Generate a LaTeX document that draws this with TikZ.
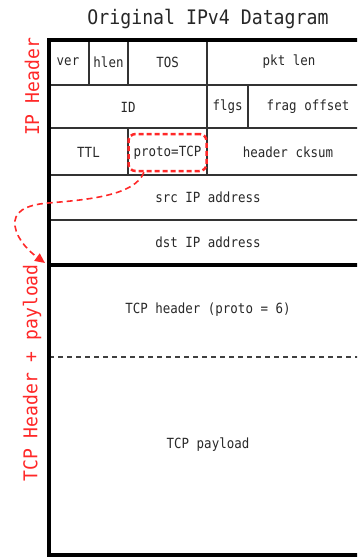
\documentclass[tikz,border=0pt]{standalone}
\usepackage{fontspec}
\newfontfamily\fieldfont[FakeStretch=0.89]{DejaVu Sans Mono}
\newfontfamily\titlefont[FakeStretch=0.91]{DejaVu Sans Mono}
\newfontfamily\sidefont[FakeStretch=0.95]{DejaVu Sans Mono}
\usetikzlibrary{arrows.meta}
\definecolor{lbl}{RGB}{255,40,40}
\definecolor{txt}{RGB}{40,40,40}
\begin{document}
\begin{tikzpicture}[x=1pt,y=-1pt,
  thinline/.style={line width=1.3pt, draw=black!80},
  thickline/.style={line width=3.5pt, draw=black},
  field/.style={font=\fontsize{14}{16}\fieldfont, text=txt, inner sep=0pt},
  side/.style={font=\fontsize{19}{21}\sidefont, text=lbl, rotate=90, inner sep=0pt},
  protobox/.style={draw=lbl, dashed, dash pattern=on 5pt off 3pt, line width=2.5pt,
    rounded corners=7pt, minimum width=78pt, minimum height=37pt},
  link/.style={draw=lbl, line width=1.6pt, dash pattern=on 6pt off 4pt,
    -{Triangle[length=10pt,width=9pt]}},
]
\useasboundingbox (0,0) rectangle (357,559);
\clip (0,0) rectangle (357,559);

% title
\node[font=\fontsize{20}{22}\titlefont, text=black!85, inner sep=0pt] (title) at (208,19) {Original IPv4 Datagram};

% thin grid lines
\draw[thinline] (49,85) -- (368,85);
\draw[thinline] (49,128) -- (368,128);
\draw[thinline] (49,175) -- (368,175);
\draw[thinline] (49,220) -- (368,220);
\draw[thinline] (89,40) -- (89,85);
\draw[thinline] (128,40) -- (128,85);
\draw[thinline] (207,40) -- (207,85);
\draw[thinline] (207,85) -- (207,128);
\draw[thinline] (248,85) -- (248,128);
\draw[thinline] (128,128) -- (128,175);
\draw[thinline] (207,128) -- (207,175);

% dashed separator in TCP part
\draw[line width=1.6pt, draw=black!75, dash pattern=on 5pt off 4pt] (49,357) -- (368,357);

% thick outlines
\draw[thickline] (49,265) -- (368,265);
\draw[thickline] (368,40) -- (49,40) -- (49,555) -- (368,555);

% fields
\node[field] (ver) at (68,62) {ver};
\node[field] (hlen) at (108.5,62) {hlen};
\node[field] (tos) at (167.5,62) {TOS};
\node[field] (pktlen) at (289,62) {pkt len};
\node[field] (id) at (128,107) {ID};
\node[field] (flgs) at (227.5,107) {flgs};
\node[field] (frag) at (308,107) {frag offset};
\node[field] (ttl) at (88.5,152) {TTL};
\node[field, protobox] (proto) at (167.5,152.5) {proto=TCP};
\node[field] (cksum) at (288,152) {header cksum};
\node[field] (src) at (208,197) {src IP address};
\node[field] (dst) at (208,242) {dst IP address};
\node[field] (tcph) at (208,310) {TCP header (proto = 6)};
\node[field] (tcpp) at (208,445) {TCP payload};

% side labels
\node[side] (iph) at (32,87) {IP Header};
\node[side] (tcpl) at (32,373) {TCP Header + payload};

% arrow
\coordinate (tip) at (45,263);
\draw[link] (proto.220) .. controls (135,196) and (85,200) .. (48,203)
  .. controls (25,205) and (13,212) .. (15,226)
  .. controls (17,240) and (30,252) .. (tip);
\end{tikzpicture}
\end{document}
